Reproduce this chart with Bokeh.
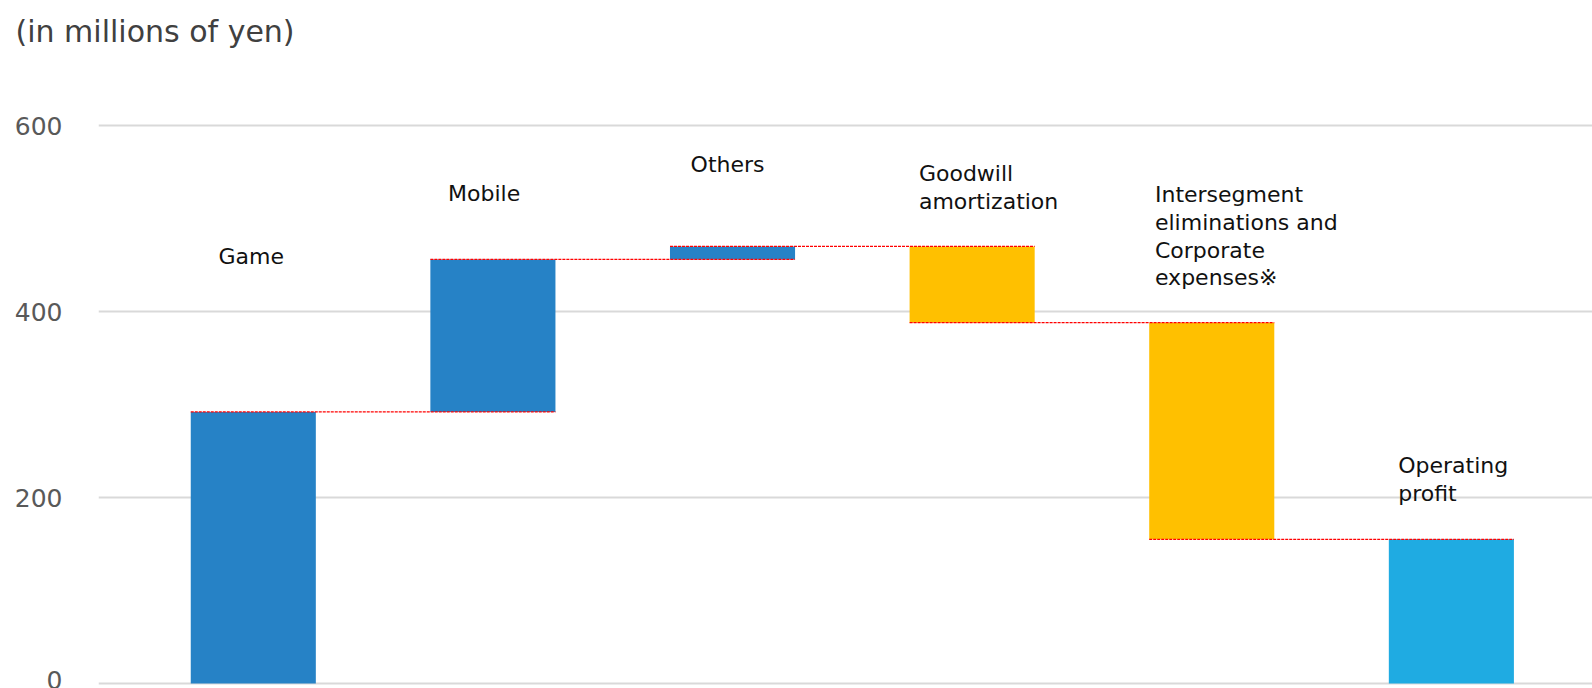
from bokeh.plotting import figure
from bokeh.models import Range1d, Title, FixedTicker, ColumnDataSource
from bokeh.core.properties import value
from bokeh.embed import file_html
from bokeh.resources import INLINE

# ---- data ----
categories = ["Game", "Mobile", "Others", "Goodwill\namortization",
              "Intersegment\neliminations and\nCorporate\nexpenses\u203b",
              "Operating\nprofit"]
values = [292, 164, 14, -82, -233, 155]
is_total = [False, False, False, False, False, True]
y_ticks = [0, 200, 400, 600]
unit_label = "(in millions of yen)"

# ---- styles / layout ----
bar_colors = ["#2682c6", "#2682c6", "#2682c6", "#ffc000", "#ffc000", "#1fabe2"]
label_dx = [-0.145, -0.187, -0.175, -0.222, -0.237, -0.222]
label_y = [472.4, 539.8, 572.0, 561.3, 539.0, 247.6]
bar_w = 0.522
frame_top = 48
px_per_unit = 0.93
zero_px = 683

xs = list(range(1, len(categories) + 1))
bottoms, tops = [], []
running = 0
for v, t in zip(values, is_total):
    if t:
        bottoms.append(0)
        tops.append(v)
    else:
        bottoms.append(running)
        tops.append(running + v)
        running += v

src = ColumnDataSource(dict(x=xs, bottom=bottoms, top=tops, color=bar_colors))

y_start = (zero_px - 688) / px_per_unit
y_end = (zero_px - frame_top) / px_per_unit

p = figure(width=1592, height=688, output_backend="svg", toolbar_location=None,
           title=None, x_axis_location=None,
           x_range=Range1d(0.354, 6.589), y_range=Range1d(y_start, y_end),
           min_border_left=98, min_border_right=0, min_border_top=frame_top,
           min_border_bottom=0)
p.outline_line_color = None
p.background_fill_color = "white"
p.border_fill_color = "white"
p.xgrid.visible = False
p.ygrid.grid_line_color = "#d9d9d9"
p.ygrid.grid_line_width = 2
p.ygrid.ticker = FixedTicker(ticks=y_ticks)

ax = p.yaxis[0]
ax.ticker = FixedTicker(ticks=y_ticks)
ax.axis_line_color = None
ax.major_tick_line_color = None
ax.minor_tick_line_color = None
ax.major_tick_out = 0
ax.major_tick_in = 0
ax.major_label_standoff = 36
ax.major_label_text_font = "DejaVu Sans"
ax.major_label_text_font_size = "25px"
ax.major_label_text_color = "#595959"

p.vbar(x="x", bottom="bottom", top="top", width=bar_w, fill_color="color",
       line_color=None, source=src)

# connector lines
cx0, cx1, cy = [], [], []
for i in range(len(categories) - 1):
    cx0.append(xs[i] - bar_w / 2)
    cx1.append(xs[i + 1] + bar_w / 2)
    cy.append(tops[i])
p.segment(x0=cx0, y0=cy, x1=cx1, y1=cy, line_color="#ff0000", line_width=1.2,
          line_dash="3 1", line_alpha=1.0)

# category labels
p.text(x=[x + d for x, d in zip(xs, label_dx)], y=label_y, text=categories,
       text_font=value("DejaVu Sans"), text_font_size="22px",
       text_align="left", text_baseline="top", text_line_height=1.11,
       text_color="#111111")

title = Title(text=unit_label, align="left", offset=-83, standoff=0,
              text_font="DejaVu Sans", text_font_size="30px", text_color="#404040",
              text_font_style="normal")
p.add_layout(title, "above")

open("out.html", "w").write(file_html(p, INLINE))
